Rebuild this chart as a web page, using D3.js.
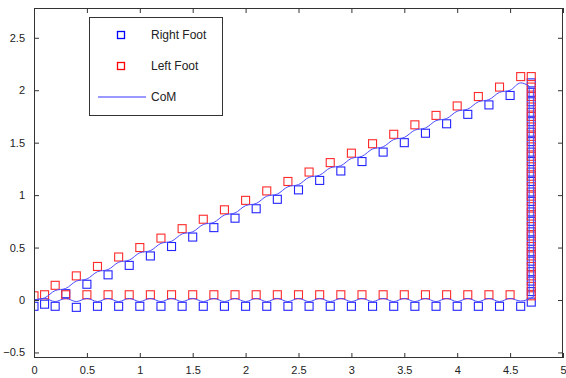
<!DOCTYPE html>
<html lang="en">
<head>
<meta charset="UTF-8">
<title>Footsteps and CoM</title>
<script src="https://d3js.org/d3.v7.min.js"></script>
<style>
    body, html { margin: 0; padding: 0; background: #fff; font-family: "Liberation Sans", Arial, sans-serif; }
    .tick text { font-size: 11px; fill: #222; }
</style>
</head>
<body>
<div id="chart"></div>
<script>
// tick values
const xTicks = [0, 0.5, 1, 1.5, 2, 2.5, 3, 3.5, 4, 4.5, 5];
const yTicks = [-0.5, 0, 0.5, 1, 1.5, 2, 2.5];

// right foot (blue squares)
const rightX = [0, 0.2, 0.4, 0.6, 0.8, 1.0, 1.2, 1.4, 1.6, 1.8, 2.0, 2.2, 2.4, 2.6, 2.8, 3.0, 3.2, 3.4, 3.6, 3.8, 4.0, 4.2, 4.4, 4.6,
    0.1, 0.3, 0.5, 0.7, 0.9, 1.1, 1.3, 1.5, 1.7, 1.9, 2.1, 2.3, 2.5, 2.7, 2.9, 3.1, 3.3, 3.5, 3.7, 3.9, 4.1, 4.3, 4.5,
    4.7, 4.7, 4.7, 4.7, 4.7, 4.7, 4.7, 4.7, 4.7, 4.7, 4.7, 4.7, 4.7, 4.7, 4.7, 4.7, 4.7, 4.7, 4.7, 4.7, 4.7, 4.7, 4.7];
const rightY = [-0.06, -0.06, -0.07, -0.06, -0.06, -0.06, -0.06, -0.06, -0.06, -0.06, -0.06, -0.06, -0.06, -0.06, -0.06, -0.06, -0.06, -0.06, -0.06, -0.06, -0.06, -0.06, -0.06, -0.06,
    -0.04, 0.06, 0.15, 0.24, 0.33, 0.42, 0.51, 0.60, 0.69, 0.78, 0.87, 0.96, 1.05, 1.14, 1.23, 1.32, 1.41, 1.50, 1.59, 1.68, 1.77, 1.86, 1.95,
    2.07, 1.98, 1.89, 1.79, 1.70, 1.60, 1.51, 1.41, 1.32, 1.22, 1.13, 1.03, 0.94, 0.84, 0.75, 0.65, 0.56, 0.46, 0.37, 0.27, 0.18, 0.08, -0.02];

// left foot (red squares)
const leftX = [0, 0.1, 0.3, 0.5, 0.7, 0.9, 1.1, 1.3, 1.5, 1.7, 1.9, 2.1, 2.3, 2.5, 2.7, 2.9, 3.1, 3.3, 3.5, 3.7, 3.9, 4.1, 4.3, 4.5,
    0.2, 0.4, 0.6, 0.8, 1.0, 1.2, 1.4, 1.6, 1.8, 2.0, 2.2, 2.4, 2.6, 2.8, 3.0, 3.2, 3.4, 3.6, 3.8, 4.0, 4.2, 4.4, 4.6, 4.7,
    4.7, 4.7, 4.7, 4.7, 4.7, 4.7, 4.7, 4.7, 4.7, 4.7, 4.7, 4.7, 4.7, 4.7, 4.7, 4.7, 4.7, 4.7, 4.7, 4.7, 4.7, 4.7];
const leftY = [0.04, 0.05, 0.05, 0.05, 0.05, 0.05, 0.05, 0.05, 0.05, 0.05, 0.05, 0.05, 0.05, 0.05, 0.05, 0.05, 0.05, 0.05, 0.05, 0.05, 0.05, 0.05, 0.05, 0.05,
    0.14, 0.23, 0.32, 0.41, 0.50, 0.59, 0.68, 0.77, 0.86, 0.95, 1.04, 1.13, 1.22, 1.31, 1.40, 1.49, 1.58, 1.67, 1.76, 1.85, 1.94, 2.03, 2.13, 2.13,
    2.03, 1.94, 1.84, 1.75, 1.65, 1.56, 1.46, 1.37, 1.27, 1.18, 1.08, 0.99, 0.89, 0.80, 0.70, 0.61, 0.51, 0.42, 0.32, 0.23, 0.13, 0.04];

// CoM, diagonal walk then sideways down
const comDiagX = [0, 0.1, 0.2, 0.3, 0.4, 0.5, 0.6, 0.7, 0.8, 0.9, 1.0, 1.1, 1.2, 1.3, 1.4, 1.5, 1.6, 1.7, 1.8, 1.9, 2.0, 2.1, 2.2, 2.3,
    2.4, 2.5, 2.6, 2.7, 2.8, 2.9, 3.0, 3.1, 3.2, 3.3, 3.4, 3.5, 3.6, 3.7, 3.8, 3.9, 4.0, 4.1, 4.2, 4.3, 4.4, 4.5, 4.6, 4.68, 4.68];
const comDiagY = [0, 0.02, 0.09, 0.11, 0.18, 0.20, 0.27, 0.29, 0.36, 0.38, 0.45, 0.47, 0.54, 0.56, 0.63, 0.65, 0.72, 0.74, 0.81, 0.83, 0.90, 0.92, 0.99, 1.01,
    1.08, 1.10, 1.17, 1.19, 1.26, 1.28, 1.35, 1.37, 1.44, 1.46, 1.53, 1.55, 1.62, 1.64, 1.71, 1.73, 1.80, 1.82, 1.89, 1.91, 1.98, 2.00, 2.07, 2.04, 0.05];

// CoM, straight walk then sideways up
const comFlatX = [0, 0.1, 0.2, 0.3, 0.4, 0.5, 0.6, 0.7, 0.8, 0.9, 1.0, 1.1, 1.2, 1.3, 1.4, 1.5, 1.6, 1.7, 1.8, 1.9, 2.0, 2.1, 2.2, 2.3,
    2.4, 2.5, 2.6, 2.7, 2.8, 2.9, 3.0, 3.1, 3.2, 3.3, 3.4, 3.5, 3.6, 3.7, 3.8, 3.9, 4.0, 4.1, 4.2, 4.3, 4.4, 4.5, 4.6, 4.72, 4.72];
const comFlatY = [0, 0.015, -0.015, 0.015, -0.015, 0.015, -0.015, 0.015, -0.015, 0.015, -0.015, 0.015, -0.015, 0.015, -0.015, 0.015, -0.015, 0.015, -0.015, 0.015, -0.015, 0.015, -0.015, 0.015,
    -0.015, 0.015, -0.015, 0.015, -0.015, 0.015, -0.015, 0.015, -0.015, 0.015, -0.015, 0.015, -0.015, 0.015, -0.015, 0.015, -0.015, 0.015, -0.015, 0.015, -0.015, 0.015, -0.01, 0.03, 2.02];

const legendLabels = ["Right Foot", "Left Foot", "CoM"];

const W = 566, H = 378;
const margin = { top: 8, right: 3, bottom: 20, left: 34 };
const width = W - margin.left - margin.right,
    height = H - margin.top - margin.bottom;

const blue = "#2323ff", red = "#ff2a2a", comBlue = "#4a4aff";

const svg = d3.select("#chart").append("svg")
    .attr("width", W)
    .attr("height", H);

const g = svg.append("g")
    .attr("transform", `translate(${margin.left},${margin.top})`);

const x = d3.scaleLinear().domain([0, 5]).range([0, width]);
const y = d3.scaleLinear().domain([-0.553, 2.784]).range([height, 0]);

// clip to plot area
svg.append("defs").append("clipPath").attr("id", "clip")
    .append("rect").attr("width", width).attr("height", height);

const plot = g.append("g").attr("clip-path", "url(#clip)");

const line = d3.line()
    .x(d => x(d[0]))
    .y(d => y(d[1]))
    .curve(d3.curveMonotoneX);
const lineV = d3.line()
    .x(d => x(d[0]))
    .y(d => y(d[1]));

function comPath(xs, ys) {
    const pts = xs.map((v, i) => [v, ys[i]]);
    const n = pts.length;
    // smooth part along the walk, straight part for sideways steps
    plot.append("path")
        .attr("d", line(pts.slice(0, n - 1)))
        .attr("fill", "none").attr("stroke", comBlue).attr("stroke-width", 1);
    plot.append("path")
        .attr("d", lineV(pts.slice(n - 2)))
        .attr("fill", "none").attr("stroke", comBlue).attr("stroke-width", 1);
}

const ms = 8;
plot.selectAll(".rf")
    .data(rightX.map((v, i) => [v, rightY[i]]))
    .enter().append("rect")
    .attr("class", "rf")
    .attr("x", d => x(d[0]) - ms / 2)
    .attr("y", d => y(d[1]) - ms / 2)
    .attr("width", ms).attr("height", ms)
    .attr("fill", "none").attr("stroke", blue).attr("stroke-width", 1.1);

plot.selectAll(".lf")
    .data(leftX.map((v, i) => [v, leftY[i]]))
    .enter().append("rect")
    .attr("class", "lf")
    .attr("x", d => x(d[0]) - ms / 2)
    .attr("y", d => y(d[1]) - ms / 2)
    .attr("width", ms).attr("height", ms)
    .attr("fill", "none").attr("stroke", red).attr("stroke-width", 1.1);

comPath(comDiagX, comDiagY);
comPath(comFlatX, comFlatY);

// axes, MATLAB style: box with inward ticks on all sides
const tl = 5;
g.append("g").attr("transform", `translate(0,${height})`)
    .call(d3.axisBottom(x).tickValues(xTicks).tickSizeInner(-tl).tickSizeOuter(0).tickPadding(8).tickFormat(d3.format("")));
g.append("g")
    .call(d3.axisTop(x).tickValues(xTicks).tickSizeInner(-tl).tickSizeOuter(0).tickFormat(""));
g.append("g")
    .call(d3.axisLeft(y).tickValues(yTicks).tickSizeInner(-tl).tickSizeOuter(0).tickPadding(9).tickFormat(d3.format("")));
g.append("g").attr("transform", `translate(${width},0)`)
    .call(d3.axisRight(y).tickValues(yTicks).tickSizeInner(-tl).tickSizeOuter(0).tickFormat(""));

g.selectAll(".domain").remove();
g.selectAll(".tick line").attr("stroke", "#333");
g.append("rect")
    .attr("x", 0.5).attr("y", 0.5)
    .attr("width", width - 1).attr("height", height - 1)
    .attr("fill", "none").attr("stroke", "#333").attr("stroke-width", 1);

// legend
const lg = svg.append("g").attr("transform", "translate(89,17)");
lg.append("rect")
    .attr("x", 0.5).attr("y", 0.5)
    .attr("width", 133).attr("height", 98)
    .attr("fill", "#fff").attr("stroke", "#333").attr("stroke-width", 1);

const rows = [18, 49, 80];
lg.append("rect").attr("x", 28.5).attr("y", rows[0] - 3.5).attr("width", 7).attr("height", 7)
    .attr("fill", "none").attr("stroke", "#0000ff").attr("stroke-width", 1.3);
lg.append("rect").attr("x", 28.5).attr("y", rows[1] - 3.5).attr("width", 7).attr("height", 7)
    .attr("fill", "none").attr("stroke", "#ff0000").attr("stroke-width", 1.3);
lg.append("line").attr("x1", 9).attr("x2", 57).attr("y1", rows[2]).attr("y2", rows[2])
    .attr("stroke", "#3535ff").attr("stroke-width", 1.2);

lg.selectAll(".lt")
    .data(legendLabels)
    .enter().append("text")
    .attr("x", 62)
    .attr("y", (d, i) => rows[i] + 4)
    .attr("font-size", 12)
    .attr("fill", "#222")
    .text(d => d);
</script>
</body>
</html>
